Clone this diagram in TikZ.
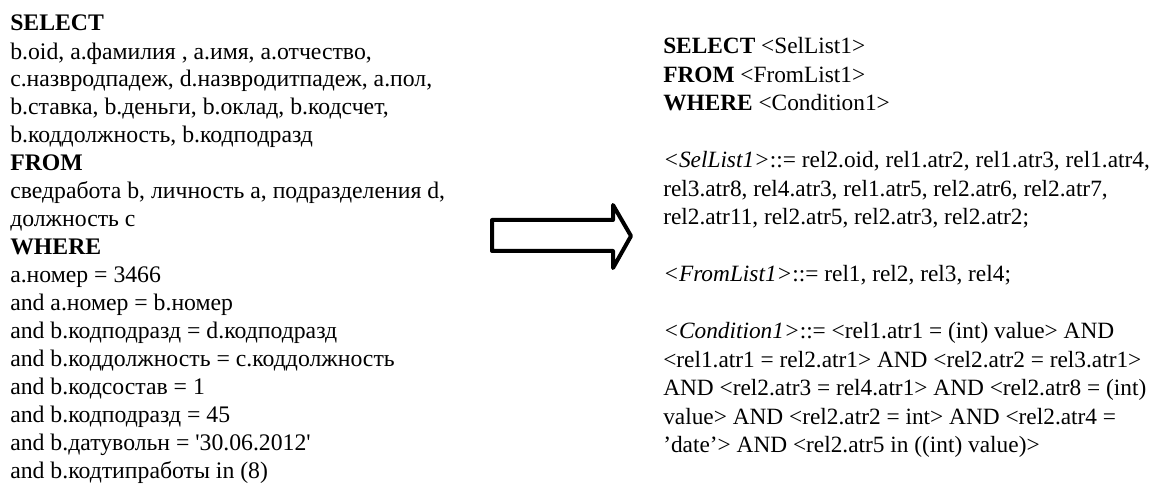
\documentclass[tikz,border=0pt]{standalone}
\usepackage{fontspec}
\setmainfont{Liberation Serif}
\usetikzlibrary{positioning}
\tikzset{sqltext/.style={anchor=base west,inner sep=0pt,align=left,font=\fontsize{17.8}{21}\selectfont}}
\newcommand{\kw}[1]{\textbf{#1}}

\begin{document}
\begin{tikzpicture}[x=0.75pt,y=-0.75pt]
\useasboundingbox (0,0) rectangle (1158,491);
% base anchor sits on the last line
\node[sqltext] (query) at (10,479) {\kw{SELECT}\\
b.oid, a.фамилия , a.имя, a.отчество,\\
c.назвродпадеж, d.назвродитпадеж, a.пол,\\
b.ставка, b.деньги, b.оклад, b.кодсчет,\\
b.коддолжность, b.кодподразд\\
\kw{FROM}\\
сведработа b, личность a, подразделения d,\\
должность c\\
\kw{WHERE}\\
a.номер = 3466\\
and a.номер = b.номер\\
and b.кодподразд = d.кодподразд\\
and b.коддолжность = c.коддолжность\\
and b.кодсостав = 1\\
and b.кодподразд = 45\\
and b.датувольн = \textquotesingle30.06.2012\textquotesingle\\
and b.кодтипработы in (8)};
\node[sqltext,font=\fontsize{17.5}{21.4}\selectfont] (pattern) at (663,453) {\kw{SELECT} <SelList1>\\
\kw{FROM} <FromList1>\\
\kw{WHERE} <Condition1>\\[21.4pt]
\textit{<SelList1>}::= rel2.oid, rel1.atr2, rel1.atr3, rel1.atr4,\\
rel3.atr8, rel4.atr3, rel1.atr5, rel2.atr6, rel2.atr7,\\
rel2.atr11, rel2.atr5, rel2.atr3, rel2.atr2;\\[21.4pt]
\textit{<FromList1>}::= rel1, rel2, rel3, rel4;\\[21.4pt]
\textit{<Condition1>}::= <rel1.atr1 = (int) value> AND\\
<rel1.atr1 = rel2.atr1> AND <rel2.atr2 = rel3.atr1>\\
AND <rel2.atr3 = rel4.atr1> AND <rel2.atr8 = (int)\\
value> AND <rel2.atr2 = int> AND <rel2.atr4 =\\
’date’> AND <rel2.atr5 in ((int) value)>};
\draw[line width=3pt,line join=round] (492,220) -- (613,220) -- (613,205) -- (631,236)
  -- (613,268) -- (613,251) -- (492,251) -- cycle;
\end{tikzpicture}
\end{document}
